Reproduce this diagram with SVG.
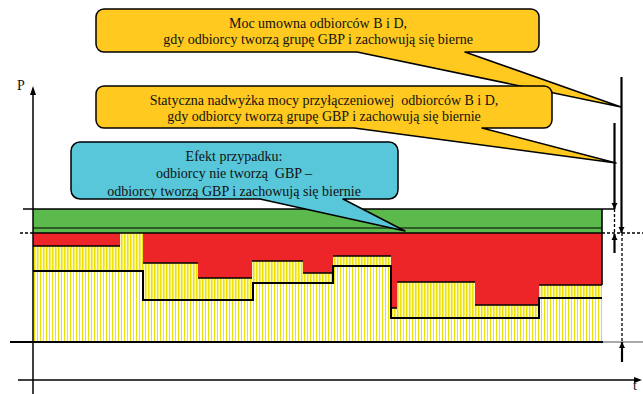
<svg xmlns="http://www.w3.org/2000/svg" width="643" height="394" viewBox="0 0 643 394">
  <style>
    .ln { stroke: #000; fill: none; }
    .dash { stroke: #000; fill: none; stroke-width: 1.3; stroke-dasharray: 3 2; }
    .txt { font-family: "Liberation Serif", "Times New Roman", serif; font-size: 14px; fill: #111; text-anchor: middle; }
    .lbl { font-family: "Liberation Serif", "Times New Roman", serif; font-size: 14px; fill: #111; }
    .yel { fill: #ffc91f; stroke: #000; stroke-width: 1.5; stroke-linejoin: round; }
    .blu { fill: #57c7d9; stroke: #000; stroke-width: 1.5; stroke-linejoin: round; }
  </style>
  <defs>
    <pattern id="hatch" width="3" height="10" patternUnits="userSpaceOnUse">
      <rect width="3" height="10" fill="#ffffff"/>
      <rect x="1" width="1" height="10" fill="#eee200"/>
    </pattern>
    <pattern id="hatchDense" width="3" height="10" patternUnits="userSpaceOnUse">
      <rect width="3" height="10" fill="#fbf7c0"/>
      <rect x="1" width="1.5" height="10" fill="#eee200"/>
    </pattern>
    <marker id="ah" viewBox="0 0 10 10" refX="10" refY="5" markerWidth="6" markerHeight="8" markerUnits="userSpaceOnUse" orient="auto">
      <path d="M0,0 L10,5 L0,10 Z" fill="#000"/>
    </marker>
  </defs>

  <rect width="643" height="394" fill="#ffffff"/>

  <!-- power profile -->
  <g id="chart">
    <rect x="33" y="233" width="569" height="109" fill="url(#hatch)"/>
    <path d="M33,246 H120 V233 H143 V263 H198 V278 H252 V261 H303 V273 H333 V256 H391 V308 H397 V282 H475 V305 H539 V285 H602 V298 H539 V318 H391 V266 H333 V283 H253 V300 H143 V271 H33 Z" fill="url(#hatchDense)"/>
    <!-- random effect area -->
    <path d="M33,233 H120 V246 H33 Z" fill="#ee2528"/>
    <path d="M143,233 H602 V285 H539 V305 H475 V282 H397 V308 H391 V256 H333 V273 H303 V261 H252 V278 H198 V263 H143 Z" fill="#ee2528"/>
    <!-- static surplus band -->
    <rect x="33" y="209" width="569" height="24" fill="#5cb94b"/>
    <line class="ln" x1="33" y1="228" x2="602" y2="228" stroke-width="1"/>
    <line class="ln" x1="33" y1="233" x2="602" y2="233" stroke-width="1.6"/>
    <line class="ln" x1="23" y1="209" x2="615" y2="209" stroke-width="1.6"/>
    <line class="ln" x1="602" y1="209" x2="602" y2="285" stroke-width="1.6"/>
    <!-- lower edges of the red area -->
    <path class="ln" stroke-width="1.5" d="M33,246 H120 M143,263 H198 M198,278 H252 M252,261 H303 M303,273 H333 M333,256 H391 M391,308 H397 M397,282 H475 M475,305 H539 M539,285 H602"/>
    <!-- GBP step line -->
    <path class="ln" stroke-width="2" d="M33,271 H143 V300 H253 V283 H333 V266 H391 V318 H539 V298 H602"/>
    <!-- base level -->
    <line class="ln" x1="10" y1="342" x2="603" y2="342" stroke-width="2"/>
    <line x1="603" y1="342" x2="643" y2="342" stroke="#555" stroke-width="1"/>
  </g>

  <!-- axes -->
  <g id="axes">
    <line class="ln" x1="33" y1="92" x2="33" y2="394" stroke-width="1.5"/>
    <path d="M33,86 L30,95 L36,95 Z" fill="#000"/>
    <line class="ln" x1="18" y1="380" x2="636" y2="380" stroke-width="1.5"/>
    <path d="M642,380 L634,377 L634,383 Z" fill="#000"/>
    <text class="lbl" x="17" y="90">P</text>
    <text class="lbl" x="633" y="390" font-size="13">t</text>
  </g>

  <!-- dimension arrows and guide lines -->
  <g id="connectors">
    <line class="dash" x1="20" y1="233" x2="33" y2="233"/>
    <line class="dash" x1="602" y1="233" x2="643" y2="233"/>
    <line class="dash" x1="614.5" y1="209" x2="614.5" y2="233"/>
    <line class="dash" x1="622" y1="233" x2="622" y2="342"/>
    <line class="ln" x1="621.5" y1="77" x2="621.5" y2="233" stroke-width="2.2" marker-end="url(#ah)"/>
    <line class="ln" x1="614.5" y1="123" x2="614.5" y2="209" stroke-width="2.2" marker-end="url(#ah)"/>
    <line class="ln" x1="614.5" y1="253" x2="614.5" y2="234" stroke-width="2.2" marker-end="url(#ah)"/>
    <line class="ln" x1="622" y1="362" x2="622" y2="342" stroke-width="2.2" marker-end="url(#ah)"/>
  </g>

  <g id="callout-moc">
    <path class="yel" d="M104,9 H531 A8,8 0 0 1 539,17 V44 A8,8 0 0 1 531,52 H465 L621,107 L357,52 H104 A8,8 0 0 1 96,44 V17 A8,8 0 0 1 104,9 Z"/>
    <text class="txt" x="318" y="28">Moc umowna odbiorców B i D,</text>
    <text class="txt" x="318" y="44">gdy odbiorcy tworzą grupę GBP i zachowują się bierne</text>
  </g>

  <g id="callout-nadwyzka">
    <path class="yel" d="M104,86 H544 A8,8 0 0 1 552,94 V120 A8,8 0 0 1 544,128 H482 L616,163 L354,128 H104 A8,8 0 0 1 96,120 V94 A8,8 0 0 1 104,86 Z"/>
    <text class="txt" x="324" y="105" xml:space="preserve">Statyczna nadwyżka mocy przyłączeniowej  odbiorców B i D,</text>
    <text class="txt" x="324" y="121">gdy odbiorcy tworzą grupę GBP i zachowują się biernie</text>
  </g>

  <g id="callout-efekt">
    <path class="blu" d="M80,142 H389 A9,9 0 0 1 398,151 V190 A9,9 0 0 1 389,199 H343 L405,231 L260,199 H80 A9,9 0 0 1 71,190 V151 A9,9 0 0 1 80,142 Z"/>
    <text class="txt" x="234" y="161">Efekt przypadku:</text>
    <text class="txt" x="234" y="178" xml:space="preserve">odbiorcy nie tworzą  GBP –</text>
    <text class="txt" x="234" y="196">odbiorcy tworzą GBP i zachowują się biernie</text>
  </g>
</svg>
